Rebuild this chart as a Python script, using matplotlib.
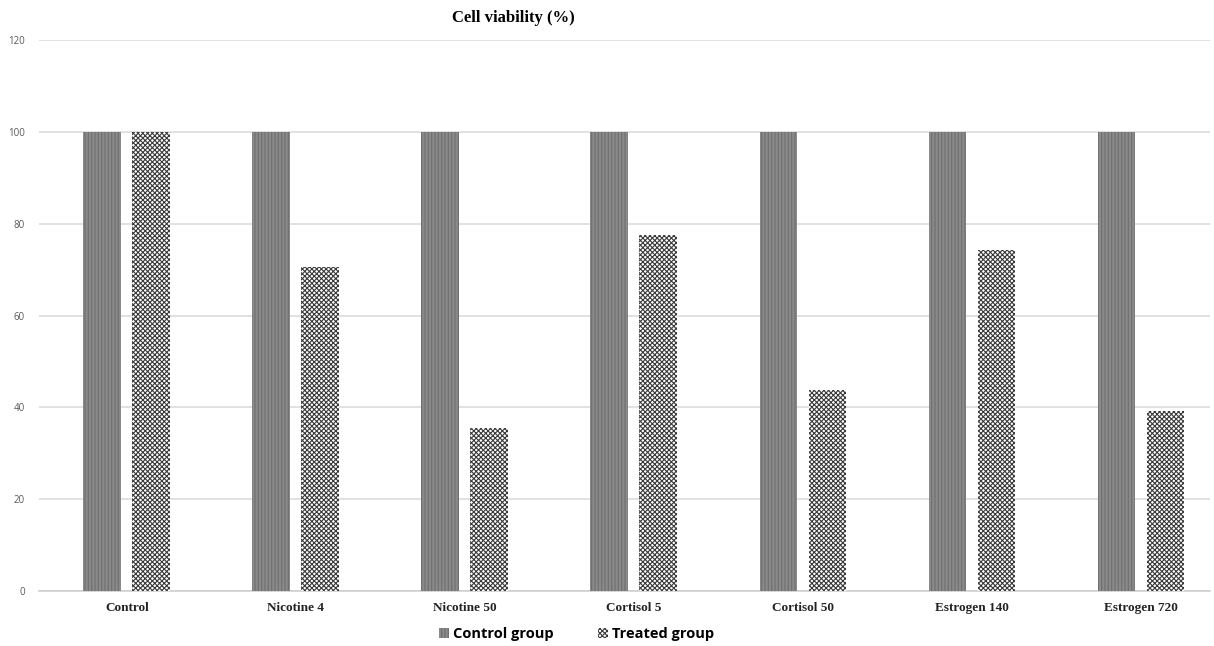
import numpy as np
import matplotlib.pyplot as plt
from matplotlib.patches import Patch

# Cell viability per treatment, control vs treated
categories = ['Control', 'Nicotine 4', 'Nicotine 50', 'Cortisol 5',
              'Cortisol 50', 'Estrogen 140', 'Estrogen 720']
control_group = [100, 100, 100, 100, 100, 100, 100]
treated_group = [100, 70.6, 35.5, 77.5, 43.7, 74.2, 39.2]
yticks = [0, 20, 40, 60, 80, 100, 120]

plt.rcParams['hatch.linewidth'] = 0.8

fig = plt.figure(figsize=(12.14, 6.46), dpi=100)
ax = fig.add_axes([0.032, 0.085, 0.965, 0.853])

x = np.arange(len(categories))
w = 0.224

ax.bar(x - 0.145, control_group, w, color='#8a8a8a', hatch='|||||',
       edgecolor='#6e6e6e', linewidth=0, zorder=3)
ax.bar(x + 0.145, treated_group, w, color='white', hatch='xxxxxxx',
       edgecolor='#3a3a3a', linewidth=0, zorder=3)

ax.set_ylim(0, 120)
ax.set_xlim(-0.52, 6.41)
ax.set_yticks(yticks)
ax.set_yticklabels([str(t) for t in yticks], fontsize=7, color='#595959',
                   family='Open Sans')
ax.yaxis.grid(True, color='#dcdcdc', linewidth=1.2, zorder=0)
ax.tick_params(axis='y', length=0, pad=10)
ax.tick_params(axis='x', length=0, pad=8)
ax.set_xticks(x)
ax.set_xticklabels(categories, fontsize=9.5, fontweight='bold',
                   family='Liberation Serif', color='#222222')
for s in ['top', 'right', 'left']:
    ax.spines[s].set_visible(False)
ax.spines['bottom'].set_color('#d0d0d0')
ax.spines['bottom'].set_linewidth(1.2)

fig.text(0.423, 0.972, 'Cell viability (%)', ha='center', va='center',
         fontsize=12, fontweight='bold', family='Liberation Serif')

handles = [Patch(facecolor='#8a8a8a', hatch='|||||', edgecolor='#6e6e6e', linewidth=0),
           Patch(facecolor='white', hatch='xxxxxxx', edgecolor='#3a3a3a', linewidth=0)]
fig.legend(handles, ['Control group', 'Treated group'], loc='center',
           bbox_to_anchor=(0.475, 0.018), ncol=2, frameon=False,
           prop={'family': 'Open Sans', 'weight': 'bold', 'size': 10.5},
           handlelength=0.7, handleheight=0.7, handletextpad=0.3,
           columnspacing=3.0)

fig.savefig('out.png', dpi=100)
